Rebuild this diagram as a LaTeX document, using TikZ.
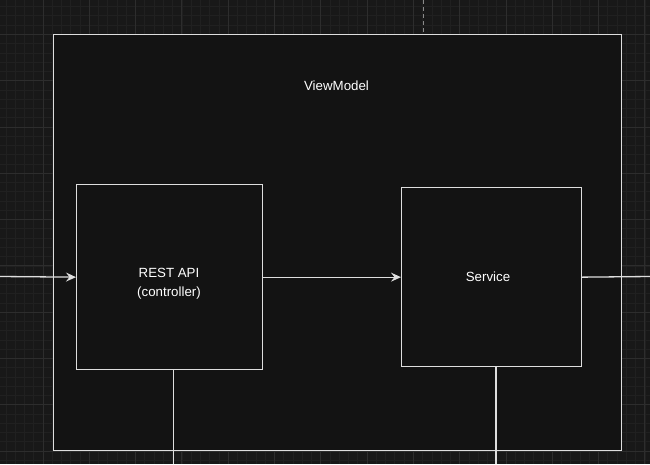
\documentclass[tikz,border=0pt]{standalone}
\usepackage{fontspec}
\setmainfont{Liberation Sans}
\usetikzlibrary{arrows.meta}
\definecolor{bgc}{HTML}{181818}
\definecolor{minorc}{HTML}{202020}
\definecolor{majorc}{HTML}{2D2D2D}
\definecolor{fillc}{HTML}{131313}
\definecolor{strokec}{HTML}{DEDEDE}
\definecolor{guidec}{HTML}{8A8A8A}
\tikzset{
  minorgrid/.style={minorc, line width=0.8pt},
  majorgrid/.style={majorc, line width=1pt},
  boxnode/.style={draw=strokec, fill=fillc, line width=1.3pt, inner sep=0pt, anchor=north west},
  lbl/.style={text=white, font=\fontsize{13.3}{19}\selectfont, inner sep=0pt},
  conn/.style={draw=strokec, line width=1.3pt},
  arr/.style={conn, -{Stealth[length=10pt, width=9pt, inset=3.5pt]}},
  guide/.style={draw=guidec, line width=0.9pt, dash pattern=on 4pt off 3pt}
}
\begin{document}
\begin{tikzpicture}[x=1pt,y=-1pt]
\useasboundingbox (0,0) rectangle (650,464);
\begin{scope}
\clip (0,0) rectangle (650,464);
\fill[bgc] (0,0) rectangle (650,464);
\foreach \i in {-5,...,70} { \draw[minorgrid] ({43+9.26*\i},0) -- ({43+9.26*\i},464); }
\foreach \i in {-4,...,50} { \draw[minorgrid] (0,{34.4+9.26*\i}) -- (650,{34.4+9.26*\i}); }
\foreach \k in {-1,...,13} { \draw[majorgrid] ({43+46.3*\k},0) -- ({43+46.3*\k},464); }
\foreach \k in {-1,...,10} { \draw[majorgrid] (0,{34.4+46.3*\k}) -- (650,{34.4+46.3*\k}); }
\end{scope}
\coordinate (gtop) at (423,0);
\coordinate (gbot) at (423,33);
\draw[guide] (gtop) -- (gbot);
\node[boxnode, minimum width=567.5pt, minimum height=416.5pt] (vm) at (53,33.5) {};
\node[lbl] (vmlabel) at (336.5,86) {ViewModel};
\node[boxnode, minimum width=186pt, minimum height=185pt] (rest) at (76,184) {};
\node[lbl, align=center] (resttext) at (169,284) {REST API\\(controller)};
\node[boxnode, minimum width=179.5pt, minimum height=179pt] (svc) at (401,187) {};
\node[lbl] (svctext) at (488,277) {Service};
\coordinate (inL) at (0,276.5);
\coordinate (outR) at (650,276.5);
\coordinate (downL) at (173.5,464);
\coordinate (downR) at (496,464);
\draw[arr] (inL) -- (rest.west);
\draw[arr] (rest.east) -- (svc.west);
\draw[conn] (svc.east) -- (outR);
\draw[conn] (rest.south -| downL) -- (downL);
\draw[conn] (svc.south -| downR) -- (downR);
\end{tikzpicture}
\end{document}
